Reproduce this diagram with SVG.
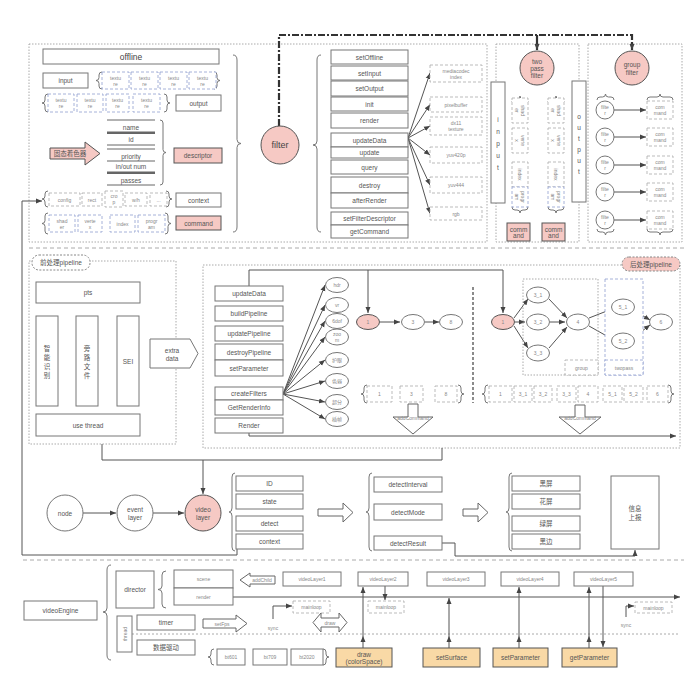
<svg xmlns="http://www.w3.org/2000/svg" width="692" height="686" viewBox="0 0 692 686">
<defs>
<marker id="ah" markerUnits="userSpaceOnUse" markerWidth="7" markerHeight="6" refX="6" refY="3" orient="auto"><path d="M0,0.5 L6,3 L0,5.5 z" fill="#444"/></marker>
<style>
.bx{fill:#fff;stroke:#777;stroke-width:1}
.dt{fill:none;stroke:#aaa;stroke-width:1;stroke-dasharray:1.5 1.5}
.ds{fill:#fff;stroke:#aaa;stroke-width:0.8;stroke-dasharray:3 2}
.db{fill:#fff;stroke:#8f9fcf;stroke-width:0.8;stroke-dasharray:3 2}
.pk{fill:#f6c9c4;stroke:#555;stroke-width:1}
.or{fill:#f9d9a6;stroke:#555;stroke-width:1}
.ln{fill:none;stroke:#555;stroke-width:1}
.ar{fill:none;stroke:#555;stroke-width:1;marker-end:url(#ah)}
.br{fill:none;stroke:#777;stroke-width:1}
.blk{fill:#fff;stroke:#666;stroke-width:1}
text{font-family:"Liberation Sans","Noto Sans CJK SC",sans-serif;fill:#555;text-anchor:middle;dominant-baseline:central;font-size:6.5px}
.s{font-size:5px;fill:#888}
.m{font-size:8.5px;fill:#444}
.c{font-size:9px;fill:#444}
</style>
</defs>
<rect width="692" height="686" fill="#fff"/>

<!-- frames -->
<g id="frames">
<rect class="dt" x="29" y="44" width="458" height="198"/>
<rect class="dt" x="496" y="44" width="83" height="198"/>
<rect class="dt" x="588" y="44" width="94" height="198"/>
<line x1="29" y1="248" x2="684" y2="248" stroke="#aaa" stroke-dasharray="4 3"/>
<rect class="dt" x="29" y="261" width="147" height="183"/>
<rect class="dt" x="203" y="265" width="477" height="183"/>
<line x1="23" y1="560" x2="684" y2="560" stroke="#aaa" stroke-dasharray="4 3"/>
<line x1="132" y1="634" x2="680" y2="634" stroke="#aaa" stroke-dasharray="2 2"/>
</g>

<!-- braces -->
<g id="braces" class="br">
<path d="M102,72 Q99,72 99,75 V77.5 Q99,80.5 96,80.5 Q99,80.5 99,83.5 V86 Q99,89 102,89"/>
<path d="M214,72 Q217,72 217,75 V77.5 Q217,80.5 220,80.5 Q217,80.5 217,83.5 V86 Q217,89 214,89"/>
<path d="M48,94 Q45,94 45,97 V100 Q45,103 42,103 Q45,103 45,106 V109 Q45,112 48,112"/>
<path d="M164,94 Q167,94 167,97 V100 Q167,103 170,103 Q167,103 167,106 V109 Q167,112 164,112"/>
<path d="M160,120 Q163,120 163,123 V149.5 Q163,152.5 166,152.5 Q163,152.5 163,155.5 V182 Q163,185 160,185"/>
<path d="M48,191 Q45,191 45,194 V196 Q45,199 42,199 Q45,199 45,202 V204 Q45,207 48,207"/>
<path d="M166,191 Q169,191 169,194 V196 Q169,199 172,199 Q169,199 169,202 V204 Q169,207 166,207"/>
<path d="M48,213 Q45,213 45,216 V220.5 Q45,223.5 42,223.5 Q45,223.5 45,226.5 V231 Q45,234 48,234"/>
<path d="M165,213 Q168,213 168,216 V220.5 Q168,223.5 171,223.5 Q168,223.5 168,226.5 V231 Q168,234 165,234"/>
<path d="M233,55 Q237,55 237,60 V139.5 Q237,143.5 241,143.5 Q237,143.5 237,147.5 V227 Q237,232 233,232"/>
<path d="M321,55 Q317,55 317,60 V141 Q317,145 313,145 Q317,145 317,149 V227 Q317,232 321,232"/>
<path d="M512,102 Q512,99 515,99 H517 Q520,99 520,96 Q520,99 523,99 H525 Q528,99 528,102"/>
<path d="M548,102 Q548,99 551,99 H553 Q556,99 556,96 Q556,99 559,99 H561 Q564,99 564,102"/>
<path d="M512,207 Q512,210 515,210 H517 Q520,210 520,213 Q520,210 523,210 H525 Q528,210 528,207"/>
<path d="M548,207 Q548,210 551,210 H553 Q556,210 556,213 Q556,210 559,210 H561 Q564,210 564,207"/>
<path d="M597,100 Q597,97 600,97 H602.5 Q605.5,97 605.5,94 Q605.5,97 608.5,97 H611 Q614,97 614,100"/>
<path d="M647,100 Q647,97 650,97 H657 Q660,97 660,94 Q660,97 663,97 H670 Q673,97 673,100"/>
<path d="M597,229 Q597,232 600,232 H602.5 Q605.5,232 605.5,235 Q605.5,232 608.5,232 H611 Q614,232 614,229"/>
<path d="M647,229 Q647,232 650,232 H657 Q660,232 660,235 Q660,232 663,232 H670 Q673,232 673,229"/>
<path d="M367,385 Q364,385 364,388 V391 Q364,394 361,394 Q364,394 364,397 V400 Q364,403 367,403"/>
<path d="M458,385 Q461,385 461,388 V391 Q461,394 464,394 Q461,394 461,397 V400 Q461,403 458,403"/>
<path d="M488,385 Q485,385 485,388 V391 Q485,394 482,394 Q485,394 485,397 V400 Q485,403 488,403"/>
<path d="M668,385 Q671,385 671,388 V391 Q671,394 674,394 Q671,394 671,397 V400 Q671,403 668,403"/>
<path d="M235,473 Q232,473 232,477 V508 Q232,512 229,512 Q232,512 232,516 V547 Q232,551 235,551"/>
<path d="M372,473 Q369,473 369,477 V508 Q369,512 366,512 Q369,512 369,516 V547 Q369,551 372,551"/>
<path d="M512,473 Q509,473 509,477 V508 Q509,512 506,512 Q509,512 509,516 V547 Q509,551 512,551"/>
<path d="M111,565 Q107,565 107,570 V608 Q107,612 103,612 Q107,612 107,616 V655 Q107,660 111,660"/>
<path d="M166,571 Q162,571 162,575 V586 Q162,589.5 158,589.5 Q162,589.5 162,593 V604 Q162,608 166,608"/>
<path d="M214,649 Q211,649 211,652 V654 Q211,657 208,657 Q211,657 211,660 V662 Q211,665 214,665"/>
<path d="M323,649 Q326,649 326,652 V654 Q326,657 329,657 Q326,657 326,660 V662 Q326,665 323,665"/>
</g>

<!-- connectors -->
<g id="connectors">
<path d="M279,126 V35 H632 V50" fill="none" stroke="#333" stroke-width="2.2" stroke-dasharray="7 2 2 2" marker-end="url(#ah)"/>
<path d="M537,35 V50" fill="none" stroke="#333" stroke-width="2.2" marker-end="url(#ah)"/>
<path class="ar" d="M408,138 L430,73"/>
<path class="ar" d="M408,138 L430,104.5"/>
<path class="ar" d="M408,138 L430,126"/>
<path class="ar" d="M408,138 L430,155"/>
<path class="ar" d="M408,138 L430,185"/>
<path class="ar" d="M408,138 L430,213.5"/>
<path class="ar" d="M614,110 H646"/>
<path class="ar" d="M614,137 H646"/>
<path class="ar" d="M614,165 H646"/>
<path class="ar" d="M614,192 H646"/>
<path class="ar" d="M614,220 H646"/>
<!-- post pipeline -->
<path class="ar" d="M249,286 V270 H503 V313"/>
<path class="ar" d="M368,270 V313"/>
<path class="ar" d="M249,433 V436 H676" stroke-width="1.3"/>
<path class="ar" d="M283,394 L325,285"/>
<path class="ar" d="M283,394 L325,305"/>
<path class="ar" d="M283,394 L325,321"/>
<path class="ar" d="M283,394 L325,337"/>
<path class="ar" d="M283,394 L325,360"/>
<path class="ar" d="M283,394 L325,381"/>
<path class="ar" d="M283,394 L325,402"/>
<path class="ar" d="M283,394 L325,419"/>
<path class="ar" d="M380,322 H400"/>
<path class="ar" d="M425,322 H439"/>
<path class="ar" d="M514,318 L528,299"/>
<path class="ar" d="M515,322 H525"/>
<path class="ar" d="M514,326 L528,348"/>
<path class="ar" d="M549,299 L567,318"/>
<path class="ar" d="M550,322 H565"/>
<path class="ar" d="M549,348 L567,327"/>
<path class="ar" d="M589,318 L612,309"/>
<path class="ar" d="M589,326 L612,339"/>
<path class="ar" d="M633,310 L650,320"/>
<path class="ar" d="M633,338 L650,325"/>
<path d="M473,287 V403" fill="none" stroke="#666" stroke-width="1.5" stroke-dasharray="3 2"/>
<!-- pipelines to video layer -->
<path class="ln" d="M102,444 V460 H442 V448"/>
<path class="ar" d="M203,460 V494"/>
<path class="ar" d="M83,513 H116"/>
<path class="ar" d="M153,513 H184"/>
<path class="ar" d="M237,549 V555 H22 V201 H42"/>
<path class="ar" d="M442,543 H455 V556 H635 V550"/>
<!-- engine -->
<path class="ar" d="M233,597 H680"/>
<path class="ar" d="M273,619 V606 H292"/>
<path class="ar" d="M626,617 V606 H634"/>
<path class="ar" d="M363,648 V636"/>
<path class="ar" d="M363,636 V587"/>
<path class="ar" d="M385,586 V600"/>
<path class="ar" d="M449,648 V636"/>
<path class="ar" d="M449,636 V598"/>
<path class="ar" d="M519,648 V636"/>
<path class="ar" d="M519,636 V587"/>
<path class="ar" d="M589,648 V636"/>
<path class="ar" d="M589,636 V587"/>
<path class="ar" d="M603,586 V647"/>
</g>

<!-- top: filter definition -->
<g id="offline"><rect class="bx" x="43" y="49" width="176" height="15"/><text class="m" x="131" y="56.5">offline</text></g>
<g id="input"><rect class="bx" x="43" y="73" width="45" height="15"/><text x="65.5" y="80.5" font-size="7.5">input</text></g>
<g id="input-textures">
<rect class="db" x="102" y="72" width="27" height="17"/><text class="s" x="115.5" y="77.5">textu</text><text class="s" x="115.5" y="83.5">re</text>
<rect class="db" x="131" y="72" width="27" height="17"/><text class="s" x="144.5" y="77.5">textu</text><text class="s" x="144.5" y="83.5">re</text>
<rect class="db" x="160" y="72" width="27" height="17"/><text class="s" x="173.5" y="77.5">textu</text><text class="s" x="173.5" y="83.5">re</text>
<rect class="db" x="189" y="72" width="27" height="17"/><text class="s" x="202.5" y="77.5">textu</text><text class="s" x="202.5" y="83.5">re</text>
</g>
<g id="output-textures">
<rect class="db" x="48" y="94" width="26" height="18"/><text class="s" x="61" y="100">textu</text><text class="s" x="61" y="106">re</text>
<rect class="db" x="77" y="94" width="26" height="18"/><text class="s" x="90" y="100">textu</text><text class="s" x="90" y="106">re</text>
<rect class="db" x="106" y="94" width="23" height="18"/><text class="s" x="117.5" y="100">textu</text><text class="s" x="117.5" y="106">re</text>
<rect class="db" x="133" y="94" width="27" height="18"/><text class="s" x="146.5" y="100">textu</text><text class="s" x="146.5" y="106">re</text>
</g>
<g id="output"><rect class="bx" x="176" y="95" width="45" height="16"/><text x="198.5" y="103" font-size="7.5">output</text></g>
<g id="descriptor-fields">
<line x1="107" y1="120" x2="155" y2="120" stroke="#666"/>
<text x="131" y="127" font-size="6">name</text>
<line x1="107" y1="132.7" x2="155" y2="132.7" stroke="#666" stroke-width="2.5"/>
<text x="131" y="139" font-size="6">id</text>
<line x1="107" y1="145" x2="155" y2="145" stroke="#666"/>
<line x1="107" y1="149" x2="155" y2="149" stroke="#666"/>
<text x="131" y="156" font-size="6">priority</text>
<line x1="107" y1="161" x2="155" y2="161" stroke="#666"/>
<text x="131" y="166.5" font-size="6">in/out num</text>
<line x1="107" y1="172.7" x2="155" y2="172.7" stroke="#666" stroke-width="2.5"/>
<text x="131" y="180" font-size="6">passes</text>
<line x1="107" y1="185" x2="155" y2="185" stroke="#666"/>
</g>
<g id="shader-arrow"><polygon class="pk" points="50,148 85,148 85,142 100,153.5 85,165 85,159 50,159"/><text x="70" y="153.5" font-size="5.5" fill="#444">固态着色器</text></g>
<g id="descriptor"><rect class="pk" x="174" y="148" width="48" height="15"/><text x="198" y="155.5" font-size="7">descriptor</text></g>
<g id="context-fields">
<rect class="ds" x="49" y="193" width="31" height="13"/><text class="s" x="64.5" y="199.5">config</text>
<rect class="ds" x="82" y="193" width="20" height="13"/><text class="s" x="92" y="199.5">rect</text>
<rect class="ds" x="105" y="191" width="18" height="16"/><text class="s" x="114" y="196">cro</text><text class="s" x="114" y="202">p</text>
<rect class="ds" x="125" y="193" width="22" height="13"/><text class="s" x="136" y="199.5">w/h</text>
<rect class="ds" x="150" y="193" width="17" height="13"/><text class="s" x="158.5" y="199.5">...</text>
</g>
<g id="context"><rect class="bx" x="176" y="193" width="45" height="14"/><text x="198.5" y="200" font-size="7.5">context</text></g>
<g id="command-fields">
<rect class="db" x="49" y="215" width="26" height="17"/><text class="s" x="62" y="220.5">shad</text><text class="s" x="62" y="226.5">er</text>
<rect class="db" x="78" y="215" width="24" height="17"/><text class="s" x="90" y="220.5">verte</text><text class="s" x="90" y="226.5">x</text>
<rect class="db" x="110" y="215" width="25" height="17"/><text class="s" x="122.5" y="223.5">index</text>
<rect class="db" x="138" y="215" width="27" height="17"/><text class="s" x="151.5" y="220.5">progr</text><text class="s" x="151.5" y="226.5">am</text>
</g>
<g id="command"><rect class="pk" x="176" y="216" width="45" height="14"/><text x="198.5" y="223" font-size="7">command</text></g>

<g id="filter"><circle class="pk" cx="280" cy="145" r="19"/><text class="c" x="280" y="145">filter</text></g>
<g id="filter-methods">
<rect class="bx" x="331" y="50" width="77" height="14"/><text x="369.5" y="57">setOffline</text>
<rect class="bx" x="331" y="66" width="77" height="14"/><text x="369.5" y="73">setInput</text>
<rect class="bx" x="331" y="81" width="77" height="15"/><text x="369.5" y="88.5">setOutput</text>
<rect class="bx" x="331" y="97" width="77" height="14"/><text x="369.5" y="104">init</text>
<rect class="bx" x="331" y="113" width="77" height="15"/><text x="369.5" y="120.5">render</text>
<rect class="bx" x="331" y="133" width="77" height="14"/><text x="369.5" y="140">updateData</text>
<rect class="bx" x="331" y="147" width="77" height="11"/><text x="369.5" y="152.5">update</text>
<rect class="bx" x="331" y="160" width="77" height="14"/><text x="369.5" y="167">query</text>
<rect class="bx" x="331" y="177" width="77" height="16"/><text x="369.5" y="185">destroy</text>
<rect class="bx" x="331" y="193" width="77" height="15"/><text x="369.5" y="200.5">afterRender</text>
<rect class="bx" x="331" y="212" width="77" height="13"/><text x="369.5" y="218.5">setFilterDescriptor</text>
<rect class="bx" x="331" y="225" width="77" height="13"/><text x="369.5" y="231.5">getCommand</text>
</g>
<g id="data-formats">
<rect class="ds" x="430" y="65" width="52" height="17"/><text class="s" x="456" y="70.5">mediacodec</text><text class="s" x="456" y="76.5">index</text>
<rect class="ds" x="430" y="97" width="52" height="15"/><text class="s" x="456" y="104.5">pixelbuffer</text>
<rect class="ds" x="430" y="117" width="52" height="18"/><text class="s" x="456" y="123">dx11</text><text class="s" x="456" y="129">texture</text>
<rect class="ds" x="430" y="147" width="52" height="16"/><text class="s" x="456" y="155">yuv420p</text>
<rect class="ds" x="430" y="177" width="52" height="16"/><text class="s" x="456" y="185">yuv444</text>
<rect class="ds" x="430" y="207" width="52" height="13"/><text class="s" x="456" y="213.5">rgb</text>
</g>

<g id="two-pass-filter"><circle class="pk" cx="537" cy="68" r="17"/><text x="537" y="61" font-size="6.5" fill="#444">two</text><text x="537" y="68" font-size="6.5" fill="#444">pass</text><text x="537" y="75" font-size="6.5" fill="#444">filter</text></g>
<g id="tp-input"><rect class="bx" x="491" y="82" width="14" height="121"/>
<text x="498" y="119" font-size="7">i</text><text x="498" y="131" font-size="7">n</text><text x="498" y="143" font-size="7">p</text><text x="498" y="155" font-size="7">u</text><text x="498" y="167" font-size="7">t</text></g>
<g id="tp-output"><rect class="bx" x="572" y="81" width="14" height="121"/>
<text x="579" y="116" font-size="7">o</text><text x="579" y="127" font-size="7">u</text><text x="579" y="138" font-size="7">t</text><text x="579" y="149" font-size="7">p</text><text x="579" y="160" font-size="7">u</text><text x="579" y="171" font-size="7">t</text></g>
<g id="tp-pass1">
<rect class="ds" x="512" y="98" width="16" height="25"/><text class="s" transform="translate(520,110.5) rotate(90)"><tspan x="0" y="-3">shad</tspan><tspan x="0" y="3">er</tspan></text>
<rect class="ds" x="512" y="128" width="16" height="25"/><text class="s" transform="translate(520,140.5) rotate(90)"><tspan x="0" y="-3">verte</tspan><tspan x="0" y="3">x</tspan></text>
<rect class="ds" x="512" y="162" width="16" height="25"/><text class="s" transform="translate(520,174.5) rotate(90)">index</text>
<rect class="db" x="512" y="187" width="16" height="20"/><text class="s" transform="translate(520,197) rotate(90)"><tspan x="0" y="-3">progr</tspan><tspan x="0" y="3">am</tspan></text>
</g>
<g id="tp-pass2">
<rect class="ds" x="548" y="98" width="16" height="25"/><text class="s" transform="translate(556,110.5) rotate(90)"><tspan x="0" y="-3">shad</tspan><tspan x="0" y="3">er</tspan></text>
<rect class="ds" x="548" y="128" width="16" height="25"/><text class="s" transform="translate(556,140.5) rotate(90)"><tspan x="0" y="-3">verte</tspan><tspan x="0" y="3">x</tspan></text>
<rect class="ds" x="548" y="162" width="16" height="25"/><text class="s" transform="translate(556,174.5) rotate(90)">index</text>
<rect class="db" x="548" y="187" width="16" height="20"/><text class="s" transform="translate(556,197) rotate(90)"><tspan x="0" y="-3">progr</tspan><tspan x="0" y="3">am</tspan></text>
</g>
<g id="tp-command1"><rect class="pk" x="507" y="223" width="23" height="18"/><text x="518.5" y="229" font-size="5.5">comm</text><text x="518.5" y="235" font-size="5.5">and</text></g>
<g id="tp-command2"><rect class="pk" x="542" y="223" width="23" height="18"/><text x="553.5" y="229" font-size="5.5">comm</text><text x="553.5" y="235" font-size="5.5">and</text></g>

<g id="group-filter"><circle class="pk" cx="632" cy="68" r="17"/><text x="632" y="64" font-size="7" fill="#444">group</text><text x="632" y="72" font-size="7" fill="#444">filter</text></g>
<g id="gf-filters">
<circle class="bx" cx="605" cy="110" r="9"/><text class="s" x="605" y="107" fill="#666">filte</text><text class="s" x="605" y="113" fill="#666">r</text>
<circle class="bx" cx="605" cy="137" r="9"/><text class="s" x="605" y="134" fill="#666">filte</text><text class="s" x="605" y="140" fill="#666">r</text>
<circle class="bx" cx="605" cy="165" r="9"/><text class="s" x="605" y="162" fill="#666">filte</text><text class="s" x="605" y="168" fill="#666">r</text>
<circle class="bx" cx="605" cy="192" r="9"/><text class="s" x="605" y="189" fill="#666">filte</text><text class="s" x="605" y="195" fill="#666">r</text>
<circle class="bx" cx="605" cy="220" r="9"/><text class="s" x="605" y="217" fill="#666">filte</text><text class="s" x="605" y="223" fill="#666">r</text>
</g>
<g id="gf-commands">
<rect class="ds" x="647" y="101" width="26" height="18"/><text class="s" x="660" y="107">com</text><text class="s" x="660" y="113">mand</text>
<rect class="ds" x="647" y="128" width="26" height="18"/><text class="s" x="660" y="134">com</text><text class="s" x="660" y="140">mand</text>
<rect class="ds" x="647" y="156" width="26" height="18"/><text class="s" x="660" y="162">com</text><text class="s" x="660" y="168">mand</text>
<rect class="ds" x="647" y="183" width="26" height="18"/><text class="s" x="660" y="189">com</text><text class="s" x="660" y="195">mand</text>
<rect class="ds" x="647" y="211" width="26" height="18"/><text class="s" x="660" y="217">com</text><text class="s" x="660" y="223">mand</text>
</g>

<!-- pre pipeline -->
<g id="pre-tag"><rect x="32" y="255" width="58" height="15" rx="7" fill="#fff" stroke="#888" stroke-dasharray="2 1.5"/><text x="61" y="262.5" font-size="6">前处理pipeline</text></g>
<g id="pts"><rect class="bx" x="36" y="282" width="104" height="21"/><text x="88" y="292.5">pts</text></g>
<g id="ai"><rect class="bx" x="36" y="316" width="22" height="90"/><text x="47" y="348">智</text><text x="47" y="357">能</text><text x="47" y="366">识</text><text x="47" y="375">别</text></g>
<g id="bypass"><rect class="bx" x="76" y="316" width="22" height="90"/><text x="87" y="348">旁</text><text x="87" y="357">路</text><text x="87" y="366">文</text><text x="87" y="375">件</text></g>
<g id="sei"><rect class="bx" x="117" y="316" width="22" height="90"/><text x="128" y="361">SEI</text></g>
<g id="use-thread"><rect class="bx" x="36" y="414" width="104" height="22"/><text x="88" y="425">use thread</text></g>
<g id="extra-data"><polygon class="bx" stroke-width="1.3" points="150,339 190,339 198,353.5 190,368 150,368"/><text x="172" y="350" font-size="6">extra</text><text x="172" y="358" font-size="6">data</text></g>

<!-- post pipeline -->
<g id="post-tag"><rect x="622" y="257" width="58" height="14" rx="7" fill="#f6c9c4" stroke="#888" stroke-dasharray="2 1.5"/><text x="651" y="264" font-size="6">后处理pipeline</text></g>
<g id="post-methods">
<rect class="bx" x="215" y="286" width="68" height="15"/><text x="249" y="293.5">updateData</text>
<rect class="bx" x="215" y="306" width="68" height="15"/><text x="249" y="313.5">buildPipeline</text>
<rect class="bx" x="215" y="326" width="68" height="15"/><text x="249" y="333.5">updatePipeline</text>
<rect class="bx" x="215" y="344" width="68" height="16"/><text x="249" y="352">destroyPipeline</text>
<rect class="bx" x="215" y="360" width="68" height="16"/><text x="249" y="368">setParameter</text>
<rect class="bx" x="215" y="387" width="68" height="13"/><text x="249" y="393.5">createFilters</text>
<rect class="bx" x="215" y="400" width="68" height="15"/><text x="249" y="407.5">GetRenderInfo</text>
<rect class="bx" x="215" y="418" width="68" height="15"/><text x="249" y="425.5">Render</text>
</g>
<g id="effects">
<ellipse class="bx" cx="337" cy="285" rx="11.5" ry="7.5"/><text class="s" x="337" y="285" fill="#666">hdr</text>
<ellipse class="bx" cx="337" cy="305" rx="11.5" ry="7.5"/><text class="s" x="337" y="305" fill="#666">vr</text>
<ellipse class="bx" cx="337" cy="321" rx="11.5" ry="7.5"/><text class="s" x="337" y="321" fill="#666">6dof</text>
<ellipse class="bx" cx="337" cy="337" rx="11.5" ry="8"/><text class="s" x="337" y="334" fill="#666">zoo</text><text class="s" x="337" y="340" fill="#666">m</text>
<ellipse class="bx" cx="337" cy="360" rx="11.5" ry="7.5"/><text class="s" x="337" y="360" fill="#666">护眼</text>
<ellipse class="bx" cx="337" cy="381" rx="11.5" ry="7.5"/><text class="s" x="337" y="381" fill="#666">色弱</text>
<ellipse class="bx" cx="337" cy="402" rx="11.5" ry="7.5"/><text class="s" x="337" y="402" fill="#666">超分</text>
<ellipse class="bx" cx="337" cy="419" rx="11.5" ry="7.5"/><text class="s" x="337" y="419" fill="#666">插帧</text>
</g>
<g id="chain1">
<ellipse class="pk" cx="368" cy="322" rx="11.5" ry="7.5"/><text class="s" x="368" y="322" fill="#444">1</text>
<ellipse class="bx" cx="413" cy="322" rx="11.5" ry="7.5"/><text class="s" x="413" y="322">3</text>
<ellipse class="bx" cx="451" cy="322" rx="11.5" ry="7.5"/><text class="s" x="451" y="322">8</text>
</g>
<g id="list1">
<rect class="ds" x="367" y="386" width="25" height="16"/><text class="s" x="379.5" y="394">1</text>
<rect class="ds" x="400" y="386" width="23" height="16"/><text class="s" x="411.5" y="394">3</text>
<rect class="ds" x="435" y="386" width="22" height="16"/><text class="s" x="446" y="394">8</text>
</g>
<g id="addcmd1"><polygon class="blk" points="408,404 418,404 418,417 433,417 413,434 393,417 408,417"/><text class="s" x="413" y="418" fill="#555">addCommand</text></g>
<g id="chain2">
<rect class="dt" x="523" y="279" width="75" height="96"/>
<rect class="ds" x="565" y="360" width="33" height="15"/><text class="s" x="581.5" y="367.5">group</text>
<rect class="db" x="605" y="279" width="38" height="96" fill="none"/>
<rect class="db" x="605" y="360" width="38" height="15"/><text class="s" x="624" y="367.5">twopass</text>
<ellipse class="pk" cx="503" cy="322" rx="11.5" ry="7.5"/><text class="s" x="503" y="322" fill="#444">1</text>
<ellipse class="bx" cx="538" cy="295" rx="11.5" ry="8"/><text class="s" x="538" y="295">3_1</text>
<ellipse class="bx" cx="538" cy="322" rx="11.5" ry="8"/><text class="s" x="538" y="322">3_2</text>
<ellipse class="bx" cx="538" cy="353" rx="11.5" ry="8"/><text class="s" x="538" y="353">3_3</text>
<ellipse class="bx" cx="578" cy="322" rx="11.5" ry="8"/><text class="s" x="578" y="322">4</text>
<ellipse class="bx" cx="623" cy="307" rx="11.5" ry="8"/><text class="s" x="623" y="307">5_1</text>
<ellipse class="bx" cx="623" cy="341" rx="11.5" ry="8"/><text class="s" x="623" y="341">5_2</text>
<ellipse class="bx" cx="661" cy="322" rx="11.5" ry="8"/><text class="s" x="661" y="322">6</text>
</g>
<g id="list2">
<rect class="ds" x="489" y="386" width="23" height="16"/><text class="s" x="500.5" y="394">1</text>
<rect class="ds" x="514" y="386" width="18" height="16"/><text class="s" x="523" y="394">3_1</text>
<rect class="ds" x="534" y="386" width="18" height="16"/><text class="s" x="543" y="394">3_2</text>
<rect class="ds" x="557" y="386" width="19" height="16"/><text class="s" x="566.5" y="394">3_3</text>
<rect class="ds" x="578" y="386" width="20" height="16"/><text class="s" x="588" y="394">4</text>
<rect class="ds" x="603" y="386" width="19" height="16"/><text class="s" x="612.5" y="394">5_1</text>
<rect class="ds" x="624" y="386" width="19" height="16"/><text class="s" x="633.5" y="394">5_2</text>
<rect class="ds" x="647" y="386" width="21" height="16"/><text class="s" x="657.5" y="394">6</text>
</g>
<g id="addcmd2"><polygon class="blk" points="575,405 585,405 585,417 601,417 580,434 559,417 575,417"/><text class="s" x="580" y="418" fill="#555">addCommand</text></g>

<!-- video layer row -->
<g id="node"><circle class="bx" cx="65" cy="513" r="18"/><text x="65" y="513" font-size="8">node</text></g>
<g id="event-layer"><circle class="bx" cx="135" cy="513" r="18"/><text x="135" y="509" font-size="7">event</text><text x="135" y="517.5" font-size="7">layer</text></g>
<g id="video-layer"><circle class="pk" cx="203" cy="513" r="18"/><text x="203" y="509" font-size="7" fill="#444">video</text><text x="203" y="517.5" font-size="7" fill="#444">layer</text></g>
<g id="vl-props">
<rect class="bx" x="236" y="476" width="67" height="15"/><text x="269.5" y="483.5">ID</text>
<rect class="bx" x="236" y="494" width="67" height="15"/><text x="269.5" y="501.5">state</text>
<rect class="bx" x="236" y="516" width="67" height="15"/><text x="269.5" y="523.5">detect</text>
<rect class="bx" x="236" y="534" width="67" height="15"/><text x="269.5" y="541.5">context</text>
</g>
<polygon class="blk" points="318,509 343,509 343,503 353,512.5 343,522 343,516 318,516"/>
<g id="detect-props">
<rect class="bx" x="374" y="477" width="68" height="15"/><text x="408" y="484.5">detectInterval</text>
<rect class="bx" x="374" y="504" width="68" height="16"/><text x="408" y="512">detectMode</text>
<rect class="bx" x="374" y="536" width="68" height="14"/><text x="408" y="543">detectResult</text>
</g>
<polygon class="blk" points="463,509 478,509 478,503 488,512.5 478,522 478,516 463,516"/>
<g id="detect-results">
<rect class="bx" x="512" y="476" width="68" height="15"/><text x="546" y="483.5">黑屏</text>
<rect class="bx" x="512" y="494" width="68" height="15"/><text x="546" y="501.5">花屏</text>
<rect class="bx" x="512" y="516" width="68" height="15"/><text x="546" y="523.5">绿屏</text>
<rect class="bx" x="512" y="534" width="68" height="15"/><text x="546" y="541.5">黑边</text>
</g>
<g id="report"><rect class="bx" x="611" y="476" width="48" height="73"/><text x="635" y="508">信息</text><text x="635" y="517">上报</text></g>

<!-- video engine -->
<g id="videoEngine"><rect class="bx" x="24" y="601" width="73" height="19"/><text x="60.5" y="610.5" font-size="7">videoEngine</text></g>
<g id="director"><rect class="bx" x="116" y="571" width="38" height="37"/><text x="135" y="589.5" font-size="6">director</text></g>
<g id="scene"><rect class="bx" x="174" y="570" width="59" height="18"/><text class="s" x="203.5" y="579" fill="#777">scene</text></g>
<g id="render"><rect class="bx" x="174" y="588" width="59" height="17"/><text class="s" x="203.5" y="596.5" fill="#777">render</text></g>
<g id="addchild"><polygon class="blk" points="240,580 250,573 250,576 275,576 275,584 250,584 250,587"/><text class="s" x="262" y="580">addChild</text></g>
<g id="thread"><rect class="bx" x="117" y="616" width="15" height="36"/><text class="s" transform="translate(124.5,634) rotate(-90)" fill="#999">thread</text></g>
<g id="timer"><rect class="bx" x="137" y="615" width="58" height="15"/><text x="166" y="622.5" font-size="6">timer</text></g>
<g id="data-driven"><rect class="bx" x="137" y="640" width="58" height="15"/><text x="166" y="647.5" font-size="6">数据驱动</text></g>
<g id="setfps"><polygon class="blk" points="203,619 236,619 236,615 247,623.5 236,632 236,628 203,628"/><text class="s" x="222" y="623.5">setFps</text></g>
<g id="colorspaces">
<rect class="bx" x="217" y="649" width="28" height="16"/><text class="s" x="231" y="657" fill="#666">bt601</text>
<rect class="bx" x="253" y="649" width="34" height="16"/><text class="s" x="270" y="657" fill="#666">bt709</text>
<rect class="bx" x="291" y="649" width="32" height="16"/><text class="s" x="307" y="657" fill="#666">bt2020</text>
</g>
<g id="layers">
<rect class="bx" x="283" y="572" width="58" height="14"/><text class="s" x="312" y="579" fill="#666">videoLayer1</text>
<rect class="bx" x="358" y="572" width="50" height="14"/><text class="s" x="383" y="579" fill="#666">videoLayer2</text>
<rect class="bx" x="427" y="572" width="58" height="14"/><text class="s" x="456" y="579" fill="#666">videoLayer3</text>
<rect class="bx" x="501" y="572" width="58" height="14"/><text class="s" x="530" y="579" fill="#666">videoLayer4</text>
<rect class="bx" x="574" y="572" width="59" height="14"/><text class="s" x="603.5" y="579" fill="#666">videoLayer5</text>
</g>
<g id="mainloops">
<rect class="ds" x="293" y="601" width="37" height="12"/><text class="s" x="311.5" y="607" fill="#999">mainloop</text>
<rect class="ds" x="368" y="601" width="36" height="12"/><text class="s" x="386" y="607" fill="#999">mainloop</text>
<rect class="ds" x="635" y="602" width="37" height="11"/><text class="s" x="653.5" y="607.5" fill="#999">mainloop</text>
<text class="s" x="273" y="628" fill="#666">sync</text>
<text class="s" x="626" y="625" fill="#666">sync</text>
</g>
<g id="draw-arrow"><polygon class="blk" points="313,622.5 321,613 321,618 339,618 339,613 347,622.5 339,632 339,627 321,627 321,632"/><text class="s" x="330" y="622.5">draw</text></g>
<g id="draw"><rect class="or" x="336" y="648" width="56" height="19"/><text x="364" y="654" font-size="6">draw</text><text x="364" y="661.5" font-size="6">(colorSpace)</text></g>
<g id="setSurface"><rect class="or" x="423" y="648" width="57" height="19"/><text x="451.5" y="657.5" font-size="6">setSurface</text></g>
<g id="setParameter"><rect class="or" x="493" y="648" width="55" height="19"/><text x="520.5" y="657.5" font-size="6">setParameter</text></g>
<g id="getParameter"><rect class="or" x="562" y="648" width="55" height="19"/><text x="589.5" y="657.5" font-size="6">getParameter</text></g>
</svg>
